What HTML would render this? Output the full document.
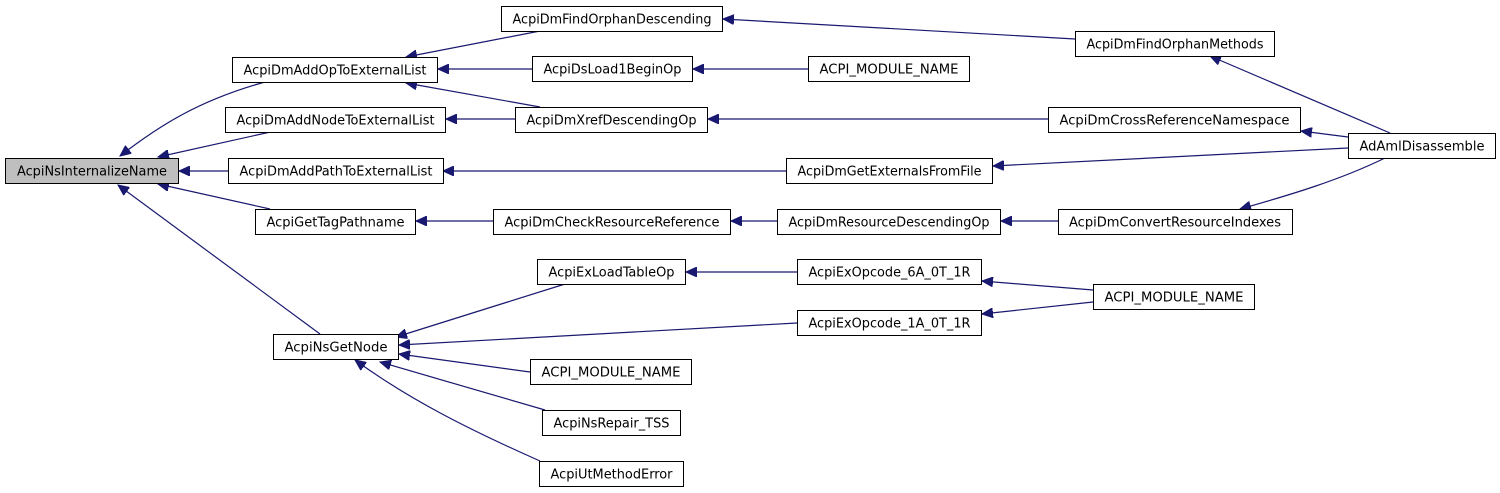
<!DOCTYPE html>
<html><head><meta charset="utf-8"><style>
html,body{margin:0;padding:0;background:#fff;}
svg{display:block;}
text{font-family:"DejaVu Sans Condensed","DejaVu Sans","Liberation Sans",sans-serif;font-size:13px;fill:#000;}
</style></head><body>
<svg width="1500" height="493" viewBox="0 0 1500 493" xmlns="http://www.w3.org/2000/svg">
<defs>
<marker id="a" markerUnits="userSpaceOnUse" markerWidth="12" markerHeight="10" refX="11" refY="5" orient="auto">
<path d="M0,0 L11,5 L0,10 Z" fill="#191970" stroke="#191970"/>
</marker>
</defs>
<g fill="none" stroke="#191970" stroke-width="1.2" marker-end="url(#a)">
<path d="M265,82 C200,100 160,125 120,156"/>
<path d="M275,131 L158,157"/>
<path d="M228,171 L179,171"/>
<path d="M270,209 L158,184"/>
<path d="M320,334 L118,185"/>
<path d="M540,31 L406,57"/>
<path d="M532,69 L438,69"/>
<path d="M540,107 L406,83"/>
<path d="M515,119 L446,119"/>
<path d="M786,171 L443,171"/>
<path d="M493,221 L416,221"/>
<path d="M565,284 L396,337"/>
<path d="M797,323 L399,345"/>
<path d="M530,372 L399,354"/>
<path d="M545,410 L380,362"/>
<path d="M540,461 C470,430 410,400 355,360"/>
<path d="M1075,39 L723,19"/>
<path d="M808,69 L693,69"/>
<path d="M1048,119 L708,119"/>
<path d="M777,221 L731,221"/>
<path d="M1058,221 L1001,221"/>
<path d="M797,272 L686,272"/>
<path d="M1093,290 L982,281"/>
<path d="M1093,302 L982,314"/>
<path d="M1390,133 L1210,56"/>
<path d="M1348,137 L1301,131"/>
<path d="M1348,148 L993,166"/>
<path d="M1385,158 C1340,180 1290,195 1240,209"/>
</g>
<g stroke="#000" stroke-width="1" fill="#fff">
<rect x="5.5" y="158.5" width="173" height="25" fill="#bfbfbf"/>
<rect x="232.5" y="57.5" width="205" height="25"/>
<rect x="225.5" y="107.5" width="220" height="25"/>
<rect x="228.5" y="158.5" width="215" height="25"/>
<rect x="255.5" y="209.5" width="160" height="25"/>
<rect x="273.5" y="334.5" width="125" height="25"/>
<rect x="501.5" y="6.5" width="221" height="25"/>
<rect x="532.5" y="56.5" width="160" height="25"/>
<rect x="515.5" y="107.5" width="192" height="25"/>
<rect x="493.5" y="209.5" width="237" height="25"/>
<rect x="537.5" y="259.5" width="148" height="25"/>
<rect x="797.5" y="310.5" width="184" height="25"/>
<rect x="797.5" y="259.5" width="184" height="25"/>
<rect x="530.5" y="359.5" width="161" height="25"/>
<rect x="542.5" y="410.5" width="138" height="25"/>
<rect x="539.5" y="461.5" width="144" height="25"/>
<rect x="808.5" y="56.5" width="161" height="25"/>
<rect x="1075.5" y="31.5" width="199" height="25"/>
<rect x="1048.5" y="107.5" width="252" height="25"/>
<rect x="786.5" y="158.5" width="206" height="25"/>
<rect x="777.5" y="209.5" width="223" height="25"/>
<rect x="1058.5" y="209.5" width="234" height="25"/>
<rect x="1348.5" y="133.5" width="147" height="25"/>
<rect x="1093.5" y="284.5" width="161" height="25"/>
</g>
<g text-anchor="middle" lengthAdjust="spacingAndGlyphs">
<text x="92" y="175.5" textLength="150" lengthAdjust="spacingAndGlyphs">AcpiNsInternalizeName</text>
<text x="335" y="74.5" textLength="183" lengthAdjust="spacingAndGlyphs">AcpiDmAddOpToExternalList</text>
<text x="335.5" y="124.5" textLength="198" lengthAdjust="spacingAndGlyphs">AcpiDmAddNodeToExternalList</text>
<text x="336" y="175.5" textLength="193" lengthAdjust="spacingAndGlyphs">AcpiDmAddPathToExternalList</text>
<text x="335.5" y="226.5" textLength="138" lengthAdjust="spacingAndGlyphs">AcpiGetTagPathname</text>
<text x="336" y="351.5" textLength="103" lengthAdjust="spacingAndGlyphs">AcpiNsGetNode</text>
<text x="612" y="23.5" textLength="199" lengthAdjust="spacingAndGlyphs">AcpiDmFindOrphanDescending</text>
<text x="612.5" y="73.5" textLength="138" lengthAdjust="spacingAndGlyphs">AcpiDsLoad1BeginOp</text>
<text x="611.5" y="124.5" textLength="170" lengthAdjust="spacingAndGlyphs">AcpiDmXrefDescendingOp</text>
<text x="612" y="226.5" textLength="215" lengthAdjust="spacingAndGlyphs">AcpiDmCheckResourceReference</text>
<text x="611.5" y="276.5" textLength="126" lengthAdjust="spacingAndGlyphs">AcpiExLoadTableOp</text>
<text x="889.5" y="327.5" textLength="162" lengthAdjust="spacingAndGlyphs">AcpiExOpcode_1A_0T_1R</text>
<text x="889.5" y="276.5" textLength="162" lengthAdjust="spacingAndGlyphs">AcpiExOpcode_6A_0T_1R</text>
<text x="611" y="376.5" textLength="139" lengthAdjust="spacingAndGlyphs">ACPI_MODULE_NAME</text>
<text x="611.5" y="427.5" textLength="116" lengthAdjust="spacingAndGlyphs">AcpiNsRepair_TSS</text>
<text x="611.5" y="478.5" textLength="122" lengthAdjust="spacingAndGlyphs">AcpiUtMethodError</text>
<text x="889" y="73.5" textLength="139" lengthAdjust="spacingAndGlyphs">ACPI_MODULE_NAME</text>
<text x="1175" y="48.5" textLength="177" lengthAdjust="spacingAndGlyphs">AcpiDmFindOrphanMethods</text>
<text x="1174.5" y="124.5" textLength="230" lengthAdjust="spacingAndGlyphs">AcpiDmCrossReferenceNamespace</text>
<text x="889.5" y="175.5" textLength="184" lengthAdjust="spacingAndGlyphs">AcpiDmGetExternalsFromFile</text>
<text x="889" y="226.5" textLength="201" lengthAdjust="spacingAndGlyphs">AcpiDmResourceDescendingOp</text>
<text x="1175" y="226.5" textLength="212" lengthAdjust="spacingAndGlyphs">AcpiDmConvertResourceIndexes</text>
<text x="1422" y="150.5" textLength="125" lengthAdjust="spacingAndGlyphs">AdAmlDisassemble</text>
<text x="1174" y="301.5" textLength="139" lengthAdjust="spacingAndGlyphs">ACPI_MODULE_NAME</text>
</g>
</svg>
</body></html>
